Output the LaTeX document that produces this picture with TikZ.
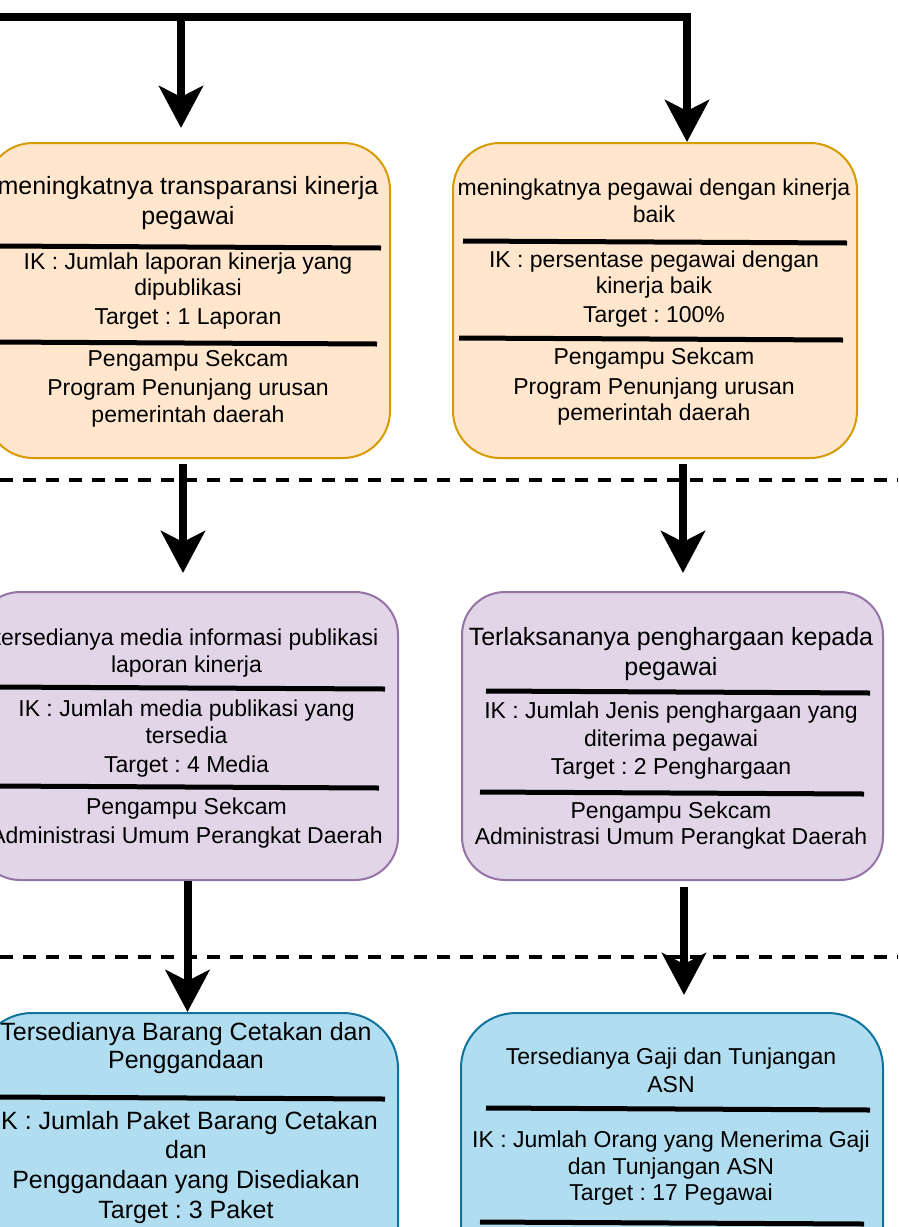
\documentclass[tikz,border=0pt]{standalone}
\usepackage{fontspec}
\setmainfont{Liberation Sans}
\usetikzlibrary{arrows.meta}
\definecolor{orfill}{HTML}{FFE6CC}
\definecolor{ordraw}{HTML}{D79B00}
\definecolor{pufill}{HTML}{E1D5E7}
\definecolor{pudraw}{HTML}{9673A6}
\definecolor{blfill}{HTML}{B1DDF0}
\definecolor{bldraw}{HTML}{10739E}
\frenchspacing

\begin{document}
\begin{tikzpicture}[x=1pt, y=-1pt,
	box/.style={draw, line width=2pt, inner sep=0pt},
	flow/.style={line width=8pt, -{Stealth[length=42pt, width=44pt, inset=11pt]}},
	sep/.style={line width=5pt},
	lvl/.style={line width=4.5pt, dash pattern=on 13pt off 10pt},
	txt/.style={anchor=base, inner sep=0pt, font=\fontsize{23}{27}\selectfont},
	big/.style={anchor=base, inner sep=0pt, font=\fontsize{25}{30}\selectfont},
	]
	\useasboundingbox (0,0) rectangle (898,1227);
	% boxes
	\node[box, fill=orfill, draw=ordraw, rounded corners=47pt,
	minimum width=404pt, minimum height=315pt] (o1) at (188,300.5) {};
	\node[box, fill=orfill, draw=ordraw, rounded corners=47pt,
	minimum width=404pt, minimum height=315pt] (o2) at (655,300.5) {};
	\node[box, fill=pufill, draw=pudraw, rounded corners=43pt,
	minimum width=421pt, minimum height=288pt] (p1) at (187.5,736) {};
	\node[box, fill=pufill, draw=pudraw, rounded corners=43pt,
	minimum width=421pt, minimum height=288pt] (p2) at (672.5,736) {};
	\node[box, fill=blfill, draw=bldraw, rounded corners=55pt,
	minimum width=421pt, minimum height=315pt] (b1) at (187.5,1170.5) {};
	\node[box, fill=blfill, draw=bldraw, rounded corners=55pt,
	minimum width=422pt, minimum height=315pt] (b2) at (672,1170.5) {};

	% top left
	\node[big] (o1t1) at (188,194) {meningkatnya transparansi kinerja};
	\node[big] (o1t2) at (188,224) {pegawai};
	\draw[sep] (-5,246) -- (381,248);
	\node[txt] (o1k1) at (188,269) {IK : Jumlah laporan kinerja yang};
	\node[txt] (o1k2) at (188,295) {dipublikasi};
	\node[txt] (o1k3) at (188,324) {Target : 1 Laporan};
	\draw[sep] (-5,342) -- (377,344);
	\node[txt] (o1p1) at (188,366) {Pengampu Sekcam};
	\node[txt] (o1p2) at (188,395) {Program Penunjang urusan};
	\node[txt] (o1p3) at (188,422) {pemerintah daerah};

	% top right
	\node[txt] (o2t1) at (654,195) {meningkatnya pegawai dengan kinerja};
	\node[txt] (o2t2) at (654,222) {baik};
	\draw[sep] (463,241) -- (847,243);
	\node[txt] (o2k1) at (654,267) {IK : persentase pegawai dengan};
	\node[txt] (o2k2) at (654,293) {kinerja baik};
	\node[txt] (o2k3) at (654,322) {Target : 100\%};
	\draw[sep] (459,338) -- (843,340);
	\node[txt] (o2p1) at (654,364) {Pengampu Sekcam};
	\node[txt] (o2p2) at (654,394) {Program Penunjang urusan};
	\node[txt] (o2p3) at (654,420) {pemerintah daerah};

	% middle left
	\node[txt] (p1t1) at (186.5,645) {tersedianya media informasi publikasi};
	\node[txt] (p1t2) at (186.5,672) {laporan kinerja};
	\draw[sep] (-5,687) -- (385,689);
	\node[txt] (p1k1) at (186.5,716) {IK : Jumlah media publikasi yang};
	\node[txt] (p1k2) at (186.5,743) {tersedia};
	\node[txt] (p1k3) at (186.5,772) {Target : 4 Media};
	\draw[sep] (-5,786) -- (379,788);
	\node[txt] (p1p1) at (186.5,814) {Pengampu Sekcam};
	\node[txt] (p1p2) at (186.5,843) {Administrasi Umum Perangkat Daerah};

	% middle right
	\node[big] (p2t1) at (671,645) {Terlaksananya penghargaan kepada};
	\node[big] (p2t2) at (671,675) {pegawai};
	\draw[sep] (486,691) -- (870,693);
	\node[txt] (p2k1) at (671,718) {IK : Jumlah Jenis penghargaan yang};
	\node[txt] (p2k2) at (671,746) {diterima pegawai};
	\node[txt] (p2k3) at (671,774) {Target : 2 Penghargaan};
	\draw[sep] (480,792) -- (864,794);
	\node[txt] (p2p1) at (671,818) {Pengampu Sekcam};
	\node[txt] (p2p2) at (671,844) {Administrasi Umum Perangkat Daerah};

	% bottom left
	\node[big] (b1t1) at (186,1040) {Tersedianya Barang Cetakan dan};
	\node[big] (b1t2) at (186,1068) {Penggandaan};
	\draw[sep] (-5,1097) -- (385,1099);
	\node[big] (b1k1) at (186,1129) {IK : Jumlah Paket Barang Cetakan};
	\node[big] (b1k2) at (186,1158) {dan};
	\node[big] (b1k3) at (186,1188) {Penggandaan yang Disediakan};
	\node[big] (b1k4) at (186,1218) {Target : 3 Paket};

	% bottom right
	\node[txt] (b2t1) at (671,1064) {Tersedianya Gaji dan Tunjangan};
	\node[txt] (b2t2) at (671,1092) {ASN};
	\draw[sep] (486,1108) -- (870,1110);
	\node[txt] (b2k1) at (671,1147) {IK : Jumlah Orang yang Menerima Gaji};
	\node[txt] (b2k2) at (671,1174) {dan Tunjangan ASN};
	\node[txt] (b2k3) at (671,1200) {Target : 17 Pegawai};
	\draw[sep] (480,1222) -- (864,1224);

	% level lines
	\draw[lvl] (0,480) -- (898,480);
	\draw[lvl] (0,957) -- (898,957);

	% arrows
	\coordinate (s0) at (-10,17);
	\coordinate (s1) at (181,17);
	\coordinate (t1) at (181,128);
	\coordinate (t2) at (687,142);
	\coordinate (u1) at (183,464);
	\coordinate (v1) at (183,573);
	\coordinate (u2) at (683,464);
	\coordinate (v2) at (683,573);
	\coordinate (u4) at (684,887);
	\coordinate (v4) at (684,995);
	\draw[flow] (s0) -| (t2);
	\draw[flow] (s1) -- (t1);
	\draw[flow] (u1) -- (v1);
	\draw[flow] (u2) -- (v2);
	\draw[flow] (p1.south) -- (b1.north);
	\draw[flow] (u4) -- (v4);
\end{tikzpicture}
\end{document}
